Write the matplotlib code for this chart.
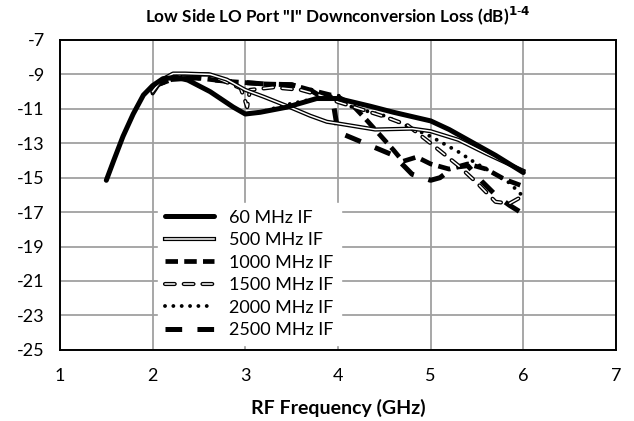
import matplotlib
matplotlib.use("Agg")
import matplotlib.pyplot as plt
from matplotlib.legend_handler import HandlerTuple

plt.rcParams["font.family"] = ["Lato", "DejaVu Sans"]
plt.rcParams["lines.scale_dashes"] = False

# --- data (RF GHz, loss dB) ---
f_60 = [1.5, 1.58, 1.68, 1.79, 1.9, 2.0, 2.11, 2.26, 2.38, 2.62, 2.87, 3.0, 3.16, 3.45, 3.77, 4.0,
        4.35, 4.6, 5.0, 5.2, 5.4, 5.7, 6.0]
l_60 = [-15.15, -14.0, -12.6, -11.3, -10.2, -9.65, -9.25, -9.17, -9.33, -10.0, -10.9, -11.3, -11.2, -10.9, -10.4, -10.4,
        -10.85, -11.2, -11.7, -12.2, -12.8, -13.7, -14.7]

f_500 = [2.0, 2.1, 2.22, 2.35, 2.62, 2.8, 3.0, 3.2, 3.48, 3.7, 3.88, 4.0, 4.4, 4.8, 5.0, 5.3, 5.6, 6.0]
l_500 = [-10.0, -9.3, -8.95, -8.95, -9.0, -9.3, -9.9, -10.3, -10.9, -11.4, -11.75, -11.85, -12.2, -12.15, -12.3, -12.8, -13.6, -14.6]

f_1000 = [2.0, 2.2, 2.47, 2.8, 3.2, 3.5, 3.7, 3.85, 4.0, 4.15, 4.3, 4.45, 4.6, 4.7, 4.85, 5.0, 5.2, 5.4, 5.6,
          5.8, 6.0]
l_1000 = [-9.7, -9.3, -9.2, -9.4, -9.55, -9.6, -9.9, -10.1, -10.3, -10.75, -11.6, -12.5, -13.4, -14.05, -13.8, -14.2, -14.5, -14.2, -14.5,
          -15.1, -15.5]

f_1500 = [2.0, 2.1, 2.3, 2.6, 2.95, 2.99, 3.02, 3.05, 3.3, 3.6, 3.8, 4.0, 4.5, 4.75, 5.0, 5.3, 5.5, 5.7, 5.85, 5.95]
l_1500 = [-10.1, -9.3, -9.0, -9.0, -9.8, -10.4, -10.9, -9.9, -9.75, -9.9, -10.2, -10.6, -11.45, -11.95, -13.0, -14.3, -15.3, -16.4, -16.5, -16.2]

f_2000 = [2.0, 2.11, 2.26, 2.38, 2.62, 2.87, 3.0, 3.16, 3.45, 3.8, 4.0, 4.15, 4.5, 5.0, 5.3, 5.5, 5.7, 5.85, 6.0]
l_2000 = [-9.65, -9.25, -9.17, -9.33, -10.0, -10.9, -11.3, -11.2, -10.75, -10.35, -10.2, -10.9, -11.4, -12.6, -13.5, -14.2, -14.8, -15.3, -16.1]

f_2500 = [2.0, 2.2, 2.47, 2.8, 3.2, 3.5, 3.7, 3.85, 3.95, 4.0, 4.2, 4.4, 4.6, 4.8, 5.0, 5.1, 5.25, 5.4, 5.55, 5.7,
          5.85, 6.0]
l_2500 = [-9.7, -9.3, -9.2, -9.4, -9.55, -9.6, -9.9, -10.4, -10.7, -12.35, -12.8, -13.25, -13.7, -14.8, -15.15, -15.0, -14.4, -14.3, -15.2, -16.0,
          -16.6, -17.1]

labels = ["60 MHz IF", "500 MHz IF", "1000 MHz IF", "1500 MHz IF", "2000 MHz IF", "2500 MHz IF"]
x_ticks = [1, 2, 3, 4, 5, 6, 7]
y_ticks = [-7, -9, -11, -13, -15, -17, -19, -21, -23, -25]

fig = plt.figure(figsize=(6.34, 4.21), dpi=100)
ax = fig.add_axes([0.0946, 0.169, 0.877, 0.736])

h60, = ax.plot(f_60, l_60, color="black", lw=3.6, solid_capstyle="round", zorder=8)

# double line: black outline with white core
h500a, = ax.plot(f_500, l_500, color="black", lw=3.0, zorder=7)
h500b, = ax.plot(f_500, l_500, color="white", lw=1.1, zorder=7)

h1000, = ax.plot(f_1000, l_1000, color="black", lw=3.4, dashes=(9, 4.5), zorder=5)

h1500a, = ax.plot(f_1500, l_1500, color="black", lw=3.0, dashes=(7, 6.5), dash_capstyle="round", zorder=6)
h1500b, = ax.plot(f_1500, l_1500, color="white", lw=1.1, dashes=(7, 6.5), dash_capstyle="round", zorder=6)

h2000, = ax.plot(f_2000, l_2000, color="black", lw=2.8, dashes=(0.01, 6), dash_capstyle="round", zorder=5)

h2500, = ax.plot(f_2500, l_2500, color="black", lw=3.6, dashes=(12, 11), zorder=4)

ax.set_xlim(1, 7)
ax.set_ylim(-25, -7)
ax.set_xticks(x_ticks)
ax.set_yticks(y_ticks)
ax.set_yticklabels([str(v) for v in y_ticks])
ax.tick_params(length=0, labelsize=13, pad=11)
ax.tick_params(axis="x", pad=13)
ax.grid(True, color="#a0a0a0", lw=1.3)
ax.set_axisbelow(True)
for s in ax.spines.values():
    s.set_color("black")
    s.set_linewidth(1.4)

ax.set_title('Low Side LO Port "I" Downconversion Loss (dB)$^{\\mathbf{1\\text{-}4}}$',
             fontsize=12.3, fontweight="bold", pad=13)
ax.set_xlabel("RF Frequency (GHz)", fontsize=14, fontweight="bold", labelpad=11)

leg = ax.legend([h60, (h500a, h500b), h1000, (h1500a, h1500b), h2000, h2500], labels,
                handler_map={tuple: HandlerTuple(ndivide=1)},
                loc="lower left", bbox_to_anchor=(0.16, -0.015), frameon=True, fancybox=False,
                framealpha=1, edgecolor="white", fontsize=13, handlelength=2.7,
                labelspacing=0.36, handletextpad=0.85, borderpad=0.4)
leg.set_zorder(10)

fig.savefig("out.png", dpi=100)
